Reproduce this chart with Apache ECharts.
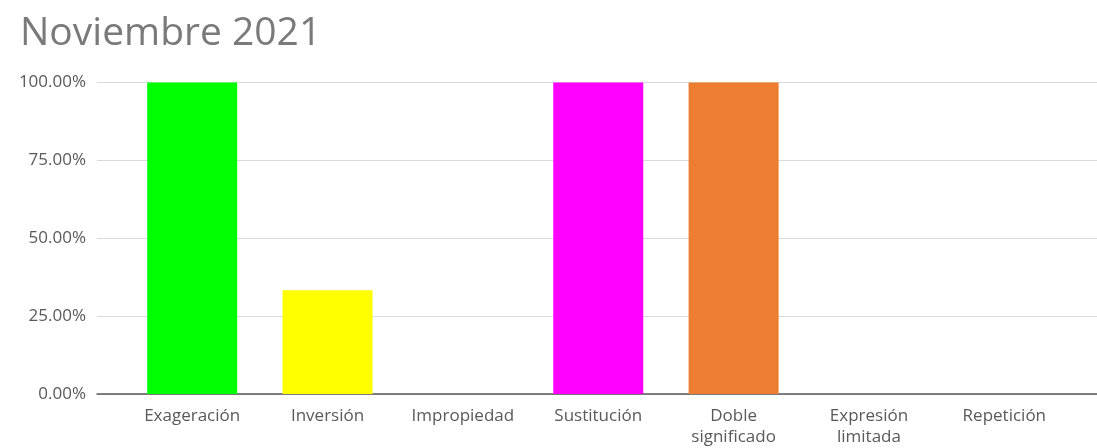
<!DOCTYPE html>
<html>
<head>
<meta charset="utf-8">
<script src="https://cdn.jsdelivr.net/npm/echarts@6/dist/echarts.min.js"></script>
<style>
html,body{margin:0;padding:0;background:#fff;}
#chart{width:1097px;height:448px;}
</style>
</head>
<body>
<div id="chart"></div>
<script>
const titleText = 'Noviembre 2021';
const categories = ['Exageración', 'Inversión', 'Impropiedad', 'Sustitución', 'Doble\nsignificado', 'Expresión\nlimitada', 'Repetición'];
const values = [100, 33.33, 0, 100, 100, 0, 0];
const barColors = ['#00ff00', '#ffff00', '#ffc000', '#ff00ff', '#ed7d31', '#5b9bd5', '#a5a5a5'];
const yTicks = [0, 25, 50, 75, 100];

const chart = echarts.init(document.getElementById('chart'), null, {renderer: 'canvas'});
const font = 'Open Sans';
chart.setOption({
  animation: false,
  title: {
    text: titleText,
    left: 15, top: 9,
    textStyle: {fontFamily: font, fontSize: 39, fontWeight: 'normal', color: '#7a7a7a'}
  },
  grid: [
    {left: 97, right: 0, top: 82.5, bottom: 54},
    {left: 124.5, right: 25, top: 82.5, bottom: 54}
  ],
  xAxis: [
    {gridIndex: 0, type: 'value', min: 0, max: 1, show: true,
     axisLine: {show: true, onZero: false, lineStyle: {color: '#595959', width: 1.5}},
     axisTick: {show: false}, axisLabel: {show: false}, splitLine: {show: false}},
    {gridIndex: 1, type: 'category', data: categories,
     axisLine: {show: false}, axisTick: {show: false},
     axisLabel: {interval: 0, margin: 12, fontFamily: font, fontSize: 17, color: '#595959', lineHeight: 21}}
  ],
  yAxis: [
    {gridIndex: 0, type: 'value', min: 0, max: 100, interval: 25,
     axisLine: {show: false}, axisTick: {show: false},
     axisLabel: {margin: 11, fontFamily: font, fontSize: 17, color: '#595959',
       formatter: v => yTicks.includes(v) ? v.toFixed(2) + '%' : ''},
     splitLine: {show: true, lineStyle: {color: '#d9d9d9', width: 1}}},
    {gridIndex: 1, type: 'value', min: 0, max: 100, interval: 25, show: false,
     splitLine: {show: false}}
  ],
  series: [{
    type: 'bar', xAxisIndex: 1, yAxisIndex: 1,
    barWidth: 90,
    data: values.map((v, i) => ({value: v, itemStyle: {color: barColors[i]}}))
  }]
});
</script>
</body>
</html>
